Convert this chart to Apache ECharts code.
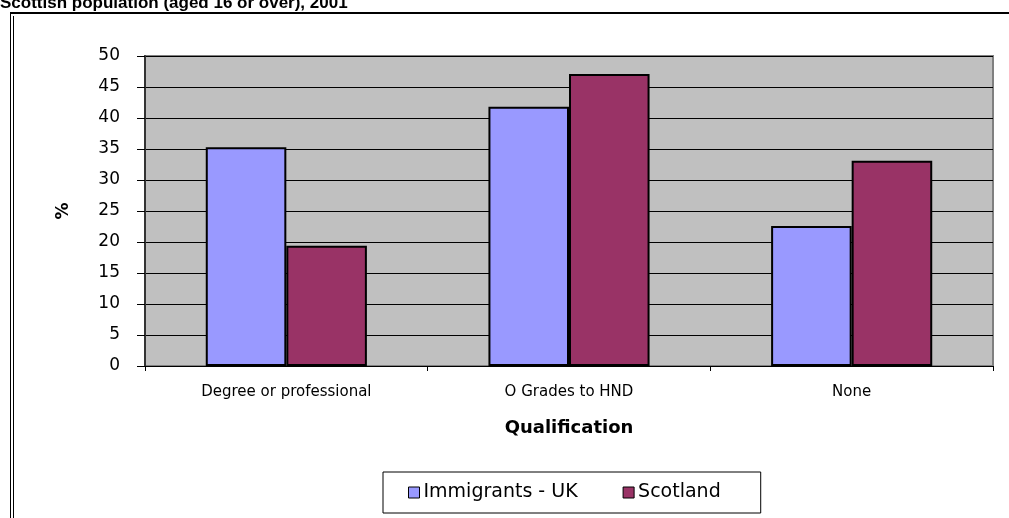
<!DOCTYPE html>
<html>
<head>
<meta charset="utf-8">
<script src="https://cdn.jsdelivr.net/npm/echarts@6/dist/echarts.min.js"></script>
<style>
  html, body { margin: 0; padding: 0; background: #fff; }
  #chart { width: 1009px; height: 518px; }
</style>
</head>
<body>
<div id="chart"></div>
<script>
// data
const categories = ['Degree or professional', 'O Grades to HND', 'None']
const immigrantsUK = [35.3, 41.8, 22.6]
const scotland = [19.4, 47.1, 33.1]
const seriesNames = ['Immigrants - UK', 'Scotland']

const immigColor = '#9999FF'
const scotColor = '#993366'
const titleFont = 'Arial, "Liberation Sans", sans-serif'
// the reference text is wide, DejaVu Sans is the closest installed
const wideFont = '"DejaVu Sans", Verdana, sans-serif'

const chart = echarts.init(document.getElementById('chart'))

const option = {
  animation: false,
  backgroundColor: '#fff',
  textStyle: { fontFamily: wideFont, color: '#000' },
  title: {
    text: 'Scottish population (aged 16 or over), 2001',
    left: 0,
    top: -5,
    padding: 0,
    textStyle: { fontFamily: titleFont, fontSize: 17, fontWeight: 'bold', color: '#000' }
  },
  graphic: [
    // outer frame lines (top + double left edge)
    { type: 'line', shape: { x1: 10, y1: 13, x2: 1009, y2: 13 }, style: { stroke: '#000', lineWidth: 2 }, silent: true },
    { type: 'line', shape: { x1: 10.5, y1: 13, x2: 10.5, y2: 518 }, style: { stroke: '#000', lineWidth: 1 }, silent: true },
    { type: 'line', shape: { x1: 13.5, y1: 16, x2: 13.5, y2: 518 }, style: { stroke: '#000', lineWidth: 1 }, silent: true }
  ],
  legend: {
    data: seriesNames,
    left: 383,
    top: 472,
    orient: 'horizontal',
    icon: 'rect',
    itemWidth: 11,
    itemHeight: 11,
    itemGap: 45,
    padding: [11, 40, 11, 25],
    borderColor: '#000',
    borderWidth: 1,
    borderRadius: 0,
    backgroundColor: '#fff',
    itemStyle: { borderColor: '#000', borderWidth: 1 },
    textStyle: { fontFamily: wideFont, fontSize: 19, color: '#000', padding: [0, 0, 0, -1] }
  },
  grid: {
    left: 145,
    right: 16,
    top: 56,
    bottom: 152,
    show: true,
    backgroundColor: '#C0C0C0',
    borderColor: '#808080',
    borderWidth: 2
  },
  xAxis: {
    type: 'category',
    data: categories,
    name: 'Qualification',
    nameLocation: 'middle',
    nameGap: 53,
    nameTextStyle: { fontFamily: wideFont, fontSize: 18, fontWeight: 'bold', color: '#000' },
    axisLine: { lineStyle: { color: '#000', width: 1 } },
    axisTick: { show: true, length: 5, alignWithLabel: false, lineStyle: { color: '#000' } },
    axisLabel: { margin: 19, fontSize: 15, color: '#000', fontFamily: wideFont },
    splitLine: { show: false }
  },
  yAxis: {
    type: 'value',
    min: 0,
    max: 50,
    interval: 5,
    name: '%',
    nameLocation: 'middle',
    nameRotate: 90,
    nameGap: 73,
    nameTextStyle: { fontFamily: wideFont, fontSize: 17, fontWeight: 'bold', color: '#000' },
    axisLine: { show: true, lineStyle: { color: '#333', width: 2 } },
    axisTick: { show: true, length: 8, lineStyle: { color: '#000' } },
    axisLabel: { margin: 25, fontSize: 17, color: '#000', fontFamily: wideFont },
    splitLine: { show: true, lineStyle: { color: '#000', width: 1 } }
  },
  series: [
    {
      name: seriesNames[0],
      type: 'bar',
      data: immigrantsUK,
      barGap: '0%',
      barCategoryGap: '43%',
      itemStyle: { color: immigColor, borderColor: '#000', borderWidth: 2 }
    },
    {
      name: seriesNames[1],
      type: 'bar',
      data: scotland,
      itemStyle: { color: scotColor, borderColor: '#000', borderWidth: 2 }
    }
  ]
}

chart.setOption(option)
</script>
</body>
</html>
